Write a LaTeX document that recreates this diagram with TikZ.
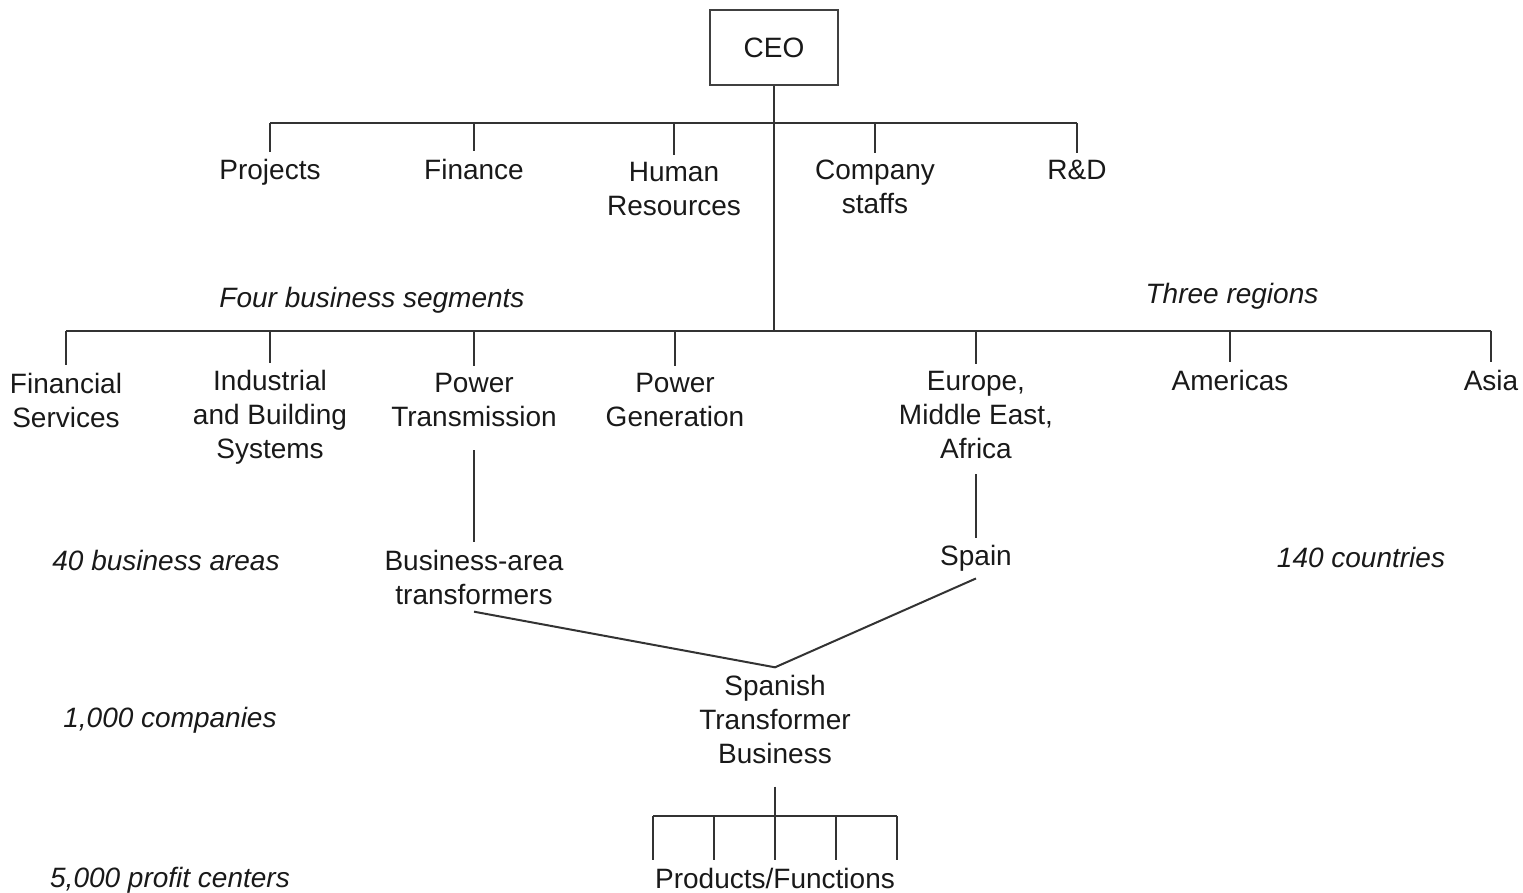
\documentclass[tikz,border=0pt]{standalone}
\usepackage{fontspec}
\setmainfont{Liberation Sans}
\begin{document}
\begin{tikzpicture}[x=0.5pt,y=-0.5pt,
  font=\fontsize{14}{17}\selectfont,
  lbl/.style={align=center, inner sep=3.5pt, text=black!90},
  note/.style={font=\fontsize{14}{17}\selectfont\itshape, inner sep=0pt, text=black!90},
  link/.style={draw=black!80, line width=1pt},
  ceobox/.style={draw=black!75, line width=1pt, minimum width=64pt, minimum height=37.5pt}]
\useasboundingbox (0,0) rectangle (1523,893);

% top of the hierarchy
\node[ceobox, lbl] (ceo) at (774,48) {CEO};

% corporate staff units
\node[lbl] (proj) at (270,172) {Projects};
\node[lbl] (fin)  at (474,169) {Finance};
\node[lbl] (hr)   at (674,189) {Human\\Resources};
\node[lbl] (cs)   at (875,187) {Company\\staffs};
\node[lbl] (rd)   at (1077,170) {R\&D};

\coordinate (staffbar) at (774,123);
\coordinate (segbar)   at (774,331);

\draw[link] (proj.north |- staffbar) -- (rd.north |- staffbar);
\foreach \n in {proj,fin,hr,cs,rd}
  \draw[link] (\n.north |- staffbar) -- (\n.north);

% main trunk
\draw[link] (ceo.south) -- (ceo.south |- segbar);

% segments and regions
\node[lbl] (fs)   at (66,400)  {Financial\\Services};
\node[lbl] (ibs)  at (270,417) {Industrial\\and Building\\Systems};
\node[lbl] (pt)   at (474,400) {Power\\Transmission};
\node[lbl] (pg)   at (675,400) {Power\\Generation};
\node[lbl] (emea) at (976,415) {Europe,\\Middle East,\\Africa};
\node[lbl] (am)   at (1230,380) {Americas};
\node[lbl] (asia) at (1491,380) {Asia};

\draw[link] (fs.north |- segbar) -- (asia.north |- segbar);
\foreach \n in {fs,ibs,pt,pg,emea,am,asia}
  \draw[link] (\n.north |- segbar) -- (\n.north);

% level annotations
\node[note] (fbs)    at (372,300)  {Four business segments};
\node[note] (treg)   at (1232,296) {Three regions};
\node[note] (ba40)   at (166,560)  {40 business areas};
\node[note] (c140)   at (1361,557) {140 countries};
\node[note] (c1000)  at (170,720)  {1,000 companies};
\node[note] (pc5000) at (170,880)  {5,000 profit centers};

% matrix intersection
\node[lbl] (bat)   at (474,577) {Business-area\\transformers};
\node[lbl] (spain) at (976,558) {Spain};
\draw[link, shorten <=8pt] (pt.south) -- (bat.north);
\draw[link, shorten <=4pt] (emea.south) -- (spain.north);

\node[lbl] (stb) at (775,719) {Spanish\\Transformer\\Business};
\draw[link] (bat.south) -- (stb.north) -- (spain.south);

% products / functions
\node[lbl] (pf) at (775,878) {Products/Functions};
\coordinate (pfbar) at (775,816);
\coordinate (pfa) at (653,816);
\coordinate (pfb) at (714,816);
\coordinate (pfc) at (775,816);
\coordinate (pfd) at (836,816);
\coordinate (pfe) at (897,816);
\draw[link, shorten <=8pt] (stb.south) -- (pfbar);
\draw[link] (pfa) -- (pfe);
\foreach \n in {pfa,pfb,pfc,pfd,pfe}
  \draw[link] (\n) -- (\n |- pf.north);
\end{tikzpicture}
\end{document}
